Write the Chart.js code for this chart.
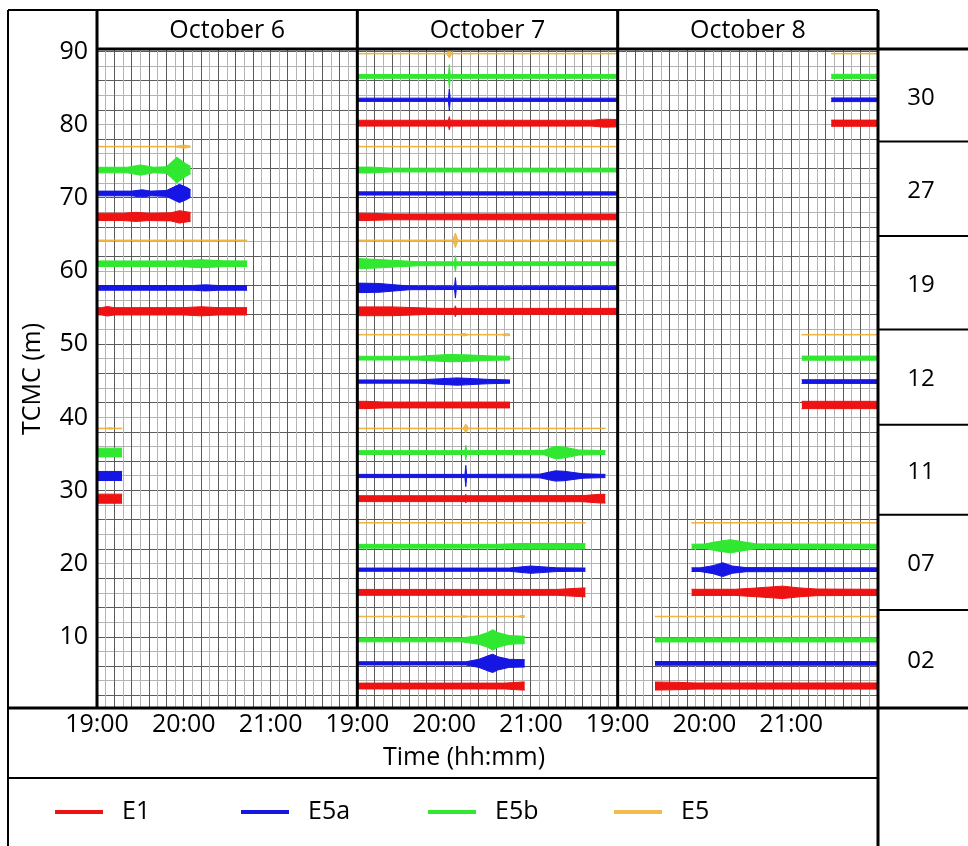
<!DOCTYPE html>
<html>
<head>
<meta charset="utf-8">
<title>TCMC records</title>
<script src="https://cdn.jsdelivr.net/npm/chart.js@4.4.1/dist/chart.umd.min.js"></script>
<style>
  html, body { margin: 0; padding: 0; background: #fff; }
  canvas { display: block; }
</style>
</head>
<body>
<canvas id="tcmc" width="968" height="846"></canvas>
<script>
var days = ['October 6', 'October 7', 'October 8'];
var groups = ['30', '27', '19', '12', '11', '07', '02'];
var channels = ['E1', 'E5a', 'E5b', 'E5'];
var channelColors = ['rgb(238,18,18)', 'rgb(22,22,228)', 'rgb(48,232,48)', 'rgba(238,176,48,0.85)'];

// trace level (m) of each channel, one value per group (top group first)
var levelE1  = [80.2, 67.4, 54.5, 41.7, 28.9, 16.1, 3.3];
var levelE5a = [83.4, 70.6, 57.7, 44.9, 32.0, 19.2, 6.4];
var levelE5b = [86.6, 73.8, 61.0, 48.1, 35.2, 22.4, 9.6];
var levelE5  = [89.7, 77.0, 64.2, 51.3, 38.5, 25.6, 12.8];

// recording window of each group, decimal hours
var spansOct6 = [null, [19, 20.08], [19, 20.73], null, [19, 19.29], null, null];
var spansOct7 = [[19, 22], [19, 22], [19, 22], [19, 20.76], [19, 21.86], [19, 21.63], [19, 20.93]];
var spansOct8 = [[21.46, 22], null, null, [21.12, 22], null, [19.85, 22], [19.43, 22]];

// usual half-width of the noise band per channel (m)
var noiseOct6 = [0.5, 0.32, 0.38, 0.04];
var noiseOct7 = [0.4, 0.22, 0.26, 0.04];
var noiseOct8 = [0.42, 0.25, 0.28, 0.04];

// bursts and spikes: [group, channel, [[hour, half-width], ...]]
var burstsOct6 = [
  [1, 0, [[19.3, 0.5], [19.45, 0.62], [19.6, 0.5], [19.85, 0.55], [19.95, 0.85], [20.08, 0.6]]],
  [1, 1, [[19.4, 0.32], [19.52, 0.5], [19.62, 0.32], [19.8, 0.4], [19.95, 1.25], [20.04, 0.8], [20.08, 0.5]]],
  [1, 2, [[19.35, 0.38], [19.5, 0.7], [19.65, 0.38], [19.8, 0.45], [19.92, 1.75], [20.02, 0.9], [20.08, 0.5]]],
  [1, 3, [[19.9, 0.04], [20.0, 0.22], [20.08, 0.06]]],
  [2, 0, [[19.05, 0.5], [19.12, 0.65], [19.2, 0.5], [20.0, 0.5], [20.2, 0.62], [20.4, 0.5]]],
  [2, 1, [[20.1, 0.32], [20.25, 0.42], [20.4, 0.32]]],
  [2, 2, [[19.9, 0.38], [20.2, 0.55], [20.45, 0.4]]],
  [4, 0, [[19, 0.62], [19.29, 0.62]]],
  [4, 1, [[19, 0.62], [19.29, 0.62]]],
  [4, 2, [[19, 0.6], [19.29, 0.6]]],
  [4, 3, [[19.1, 0.04], [19.15, 0.1], [19.2, 0.04]]]
];
var burstsOct7 = [
  [0, 0, [[20.05, 0.4], [20.06, 0.9], [20.07, 0.4], [21.7, 0.4], [21.85, 0.55], [22, 0.5]]],
  [0, 1, [[20.05, 0.22], [20.06, 1.5], [20.07, 0.22]]],
  [0, 2, [[20.05, 0.26], [20.06, 1.6], [20.07, 0.26]]],
  [0, 3, [[20.03, 0.04], [20.06, 0.6], [20.09, 0.04]]],
  [1, 0, [[19, 0.5], [19.1, 0.5], [19.4, 0.4]]],
  [1, 2, [[19, 0.4], [19.15, 0.4], [19.4, 0.26]]],
  [2, 0, [[19, 0.6], [19.4, 0.6], [19.9, 0.4], [20.12, 0.4], [20.13, 0.75], [20.14, 0.4]]],
  [2, 1, [[19, 0.65], [19.25, 0.6], [19.6, 0.25], [20.12, 0.22], [20.13, 1.4], [20.14, 0.22]]],
  [2, 2, [[19, 0.7], [19.2, 0.6], [19.7, 0.28], [20.12, 0.26], [20.13, 1.1], [20.14, 0.26]]],
  [2, 3, [[20.1, 0.04], [20.13, 1.0], [20.16, 0.04]]],
  [3, 0, [[19, 0.5], [19.1, 0.5], [19.3, 0.4]]],
  [3, 1, [[19.7, 0.22], [20.15, 0.5], [20.25, 0.45], [20.5, 0.3]]],
  [3, 2, [[19.7, 0.26], [20.05, 0.5], [20.25, 0.45], [20.55, 0.3]]],
  [3, 3, [[20.18, 0.04], [20.23, 0.18], [20.28, 0.04], [20.66, 0.04], [20.72, 0.15], [20.76, 0.1]]],
  [4, 0, [[20.24, 0.4], [20.25, 0.6], [20.26, 0.4], [21.6, 0.42], [21.8, 0.6], [21.86, 0.6]]],
  [4, 1, [[20.24, 0.22], [20.25, 1.45], [20.26, 0.22], [21.1, 0.25], [21.28, 0.7], [21.38, 0.65], [21.6, 0.3]]],
  [4, 2, [[20.24, 0.26], [20.25, 1.0], [20.26, 0.26], [21.15, 0.3], [21.28, 0.85], [21.38, 0.75], [21.55, 0.35]]],
  [4, 3, [[20.22, 0.04], [20.25, 0.6], [20.28, 0.04]]],
  [5, 0, [[21.3, 0.4], [21.6, 0.6], [21.63, 0.6]]],
  [5, 1, [[20.75, 0.22], [21.0, 0.5], [21.3, 0.25]]],
  [5, 2, [[20.6, 0.26], [20.9, 0.38], [21.5, 0.38], [21.63, 0.35]]],
  [6, 0, [[20.7, 0.4], [20.9, 0.55], [20.93, 0.55]]],
  [6, 1, [[20.25, 0.22], [20.4, 0.55], [20.52, 1.1], [20.56, 1.25], [20.62, 0.9], [20.75, 0.55], [20.93, 0.5]]],
  [6, 2, [[20.2, 0.26], [20.4, 0.6], [20.5, 1.0], [20.56, 1.4], [20.62, 1.0], [20.75, 0.6], [20.93, 0.5]]],
  [6, 3, [[20.18, 0.04], [20.23, 0.12], [20.28, 0.04], [20.85, 0.04], [20.9, 0.15], [20.93, 0.1]]]
];
var burstsOct8 = [
  [3, 0, [[21.12, 0.5], [22, 0.5]]],
  [5, 0, [[20.35, 0.42], [20.6, 0.6], [20.9, 0.85], [21.1, 0.6], [21.3, 0.45]]],
  [5, 1, [[19.95, 0.25], [20.1, 0.55], [20.21, 0.95], [20.32, 0.5], [20.48, 0.28]]],
  [5, 2, [[20.0, 0.3], [20.15, 0.65], [20.3, 0.9], [20.45, 0.6], [20.6, 0.32]]],
  [6, 0, [[19.43, 0.55], [19.7, 0.5], [19.9, 0.42]]]
];

// edges of the sensor-group boxes on the right (m)
var groupBounds = [77.7, 64.8, 52.0, 39.0, 26.7, 13.7];

var levels = [levelE1, levelE5a, levelE5b, levelE5];
var dayTraces = [
  { spans: spansOct6, noise: noiseOct6, bursts: burstsOct6 },
  { spans: spansOct7, noise: noiseOct7, bursts: burstsOct7 },
  { spans: spansOct8, noise: noiseOct8, bursts: burstsOct8 }
];

// half-width outline of one trace inside its recording window
function envelope(span, base, bursts, g, c) {
  var pts = [];
  bursts.forEach(function(b) {
    if (b[0] === g && b[1] === c) pts = pts.concat(b[2]);
  });
  pts = pts.filter(function(p) { return p[0] >= span[0] && p[0] <= span[1]; });
  pts.sort(function(a, b) { return a[0] - b[0]; });
  if (!pts.length || pts[0][0] > span[0]) pts.unshift([span[0], base]);
  if (pts[pts.length - 1][0] < span[1]) pts.push([span[1], base]);
  return pts;
}

var datasets = [];
dayTraces.forEach(function(day, d) {
  day.spans.forEach(function(span, g) {
    if (!span) return;
    [3, 0, 1, 2].forEach(function(c) {
      var level = levels[c][g];
      var env = envelope(span, day.noise[c], day.bursts, g, c);
      var common = {
        label: channels[c],
        xAxisID: 'x' + d,
        yAxisID: 'y',
        borderColor: channelColors[c],
        backgroundColor: channelColors[c],
        borderWidth: 1,
        pointRadius: 0,
        tension: 0
      };
      datasets.push(Object.assign({}, common, {
        data: env.map(function(p) { return { x: p[0], y: level + p[1] }; }),
        fill: false
      }));
      datasets.push(Object.assign({}, common, {
        data: env.map(function(p) { return { x: p[0], y: level - p[1] }; }),
        fill: '-1'
      }));
    });
  });
});

var textFont = { family: 'Open Sans', size: 25 };

function gridColor(ctx) {
  return ctx.index % 2 ? '#b4b4b4' : '#5a5a5a';
}

function hourLabel(v) {
  var h = Math.round(v);
  return Math.abs(v - h) < 1e-6 && h < 22 ? h + ':00' : '';
}

var scales = {
  y: {
    min: 0.3,
    max: 90.2,
    afterFit: function(s) { s.width = 89; },
    ticks: {
      stepSize: 2,
      includeBounds: false,
      autoSkip: false,
      padding: 9,
      color: '#000',
      font: textFont,
      callback: function(v) { return v % 10 === 0 ? v : ''; }
    },
    grid: { drawTicks: false, color: gridColor, lineWidth: 1 },
    border: { display: false },
    title: { display: true, text: 'TCMC (m)', color: '#000', font: textFont, padding: { top: 10, bottom: 0 } }
  }
};
days.forEach(function(name, d) {
  scales['x' + d] = {
    type: 'linear',
    position: 'bottom',
    stack: 'days',
    stackWeight: 1,
    min: 19,
    max: 22,
    afterFit: function(s) { s.height = 70; },
    ticks: {
      stepSize: 0.1,
      autoSkip: false,
      maxRotation: 0,
      padding: 2,
      color: '#000',
      font: textFont,
      callback: hourLabel
    },
    grid: { drawTicks: false, color: gridColor, lineWidth: 1 },
    border: { display: false }
  };
});

// table frame, day headers, group column, axis title and legend
var framePlugin = {
  id: 'frame',
  afterDraw: function(chart) {
    var ctx = chart.ctx;
    var a = chart.chartArea;
    var y = chart.scales.y;
    var L = 8, T = 10, R = a.right, W = chart.width, H = chart.height;
    var rowBottom = a.bottom + 70;

    function line(x1, y1, x2, y2, w) {
      ctx.beginPath();
      ctx.lineWidth = w;
      ctx.moveTo(x1, y1);
      ctx.lineTo(x2, y2);
      ctx.stroke();
    }

    ctx.save();
    ctx.strokeStyle = '#000';
    ctx.fillStyle = '#000';
    ctx.font = '25px "Open Sans"';
    ctx.textAlign = 'center';
    ctx.textBaseline = 'middle';

    line(L, T, R, T, 2);
    line(L, T, L, H, 2);
    line(R, T, R, H, 3);
    line(a.left, a.top - 1, W, a.top - 1, 3);
    line(L, a.bottom, W, a.bottom, 3);
    line(L, rowBottom, R, rowBottom, 2);

    days.forEach(function(name, d) {
      var s = chart.scales['x' + d];
      line(s.left, T, s.left, a.bottom, 3);
      ctx.fillText(name, (s.left + s.right) / 2, (T + a.top) / 2 + 1);
    });

    // sensor groups on the right
    var edges = [a.top].concat(groupBounds.map(function(v) { return y.getPixelForValue(v); }), [a.bottom]);
    groupBounds.forEach(function(v) {
      var py = y.getPixelForValue(v);
      line(R, py, W, py, 2);
    });
    ctx.font = '24px "Open Sans"';
    groups.forEach(function(name, i) {
      ctx.fillText(name, (R + W) / 2 - 2, (edges[i] + edges[i + 1]) / 2 + 2);
    });

    ctx.font = '25px "Open Sans"';
    ctx.fillText('Time (hh:mm)', 464, a.bottom + 50);

    // legend
    ctx.textAlign = 'left';
    var legendX = [55, 241, 428, 614];
    var legendY = rowBottom + 34;
    channels.forEach(function(name, c) {
      ctx.strokeStyle = channelColors[c];
      line(legendX[c], legendY, legendX[c] + 48, legendY, 4);
      ctx.fillText(name, legendX[c] + 67, legendY);
    });
    ctx.restore();
  }
};

Chart.defaults.font.family = 'Open Sans';

new Chart(document.getElementById('tcmc').getContext('2d'), {
  type: 'line',
  data: { datasets: datasets },
  options: {
    responsive: false,
    animation: false,
    events: [],
    layout: { padding: { left: 8, top: 50, right: 90, bottom: 68 } },
    scales: scales,
    plugins: {
      legend: { display: false },
      tooltip: { enabled: false }
    }
  },
  plugins: [framePlugin]
});
</script>
</body>
</html>
